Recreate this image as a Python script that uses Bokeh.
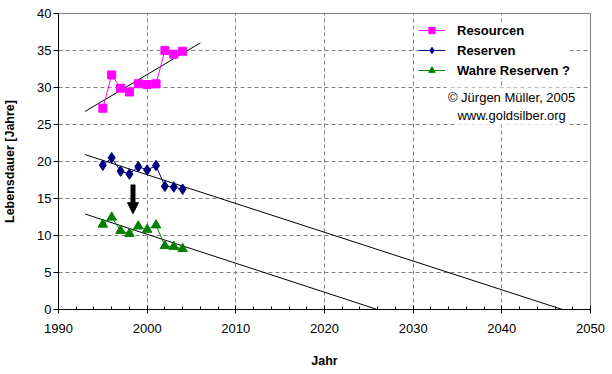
from bokeh.plotting import figure
from bokeh.models import Range1d, FixedTicker, Label, Arrow, NormalHead, Legend, LegendItem
from bokeh.embed import file_html
from bokeh.resources import INLINE
import numpy as np

# ---- data ----
years = [1995, 1996, 1997, 1998, 1999, 2000, 2001, 2002, 2003, 2004]
resourcen = [27.2, 31.7, 29.9, 29.4, 30.5, 30.4, 30.5, 35.0, 34.5, 34.9]
reserven = [19.5, 20.5, 18.7, 18.3, 19.3, 18.85, 19.45, 16.65, 16.55, 16.25]
wahre_reserven = [11.5, 12.45, 10.65, 10.25, 11.25, 10.8, 11.4, 8.6, 8.5, 8.2]

x_ticks = [1990, 2000, 2010, 2020, 2030, 2040, 2050]
x_minor = list(range(1990, 2051, 2))
y_ticks = [0, 5, 10, 15, 20, 25, 30, 35, 40]

trend_start = 1993
resourcen_trend_end = 2006

arrow_x = 1998.4
arrow_from = 16.9
arrow_to = 12.95

credit_x = 2041.1
credit_y1 = 28.7
credit_y2 = 26.25

FONT = "Liberation Sans"

FRAME_W = 532
FRAME_H = 296
B_LEFT, B_RIGHT, B_TOP, B_BOTTOM = 58, 22, 13, 65
p = figure(width=B_LEFT + FRAME_W + B_RIGHT, height=B_TOP + FRAME_H + B_BOTTOM,
           output_backend="svg", toolbar_location=None,
           x_range=Range1d(1990, 2050), y_range=Range1d(0, 40),
           min_border_left=B_LEFT, min_border_right=B_RIGHT,
           min_border_top=B_TOP, min_border_bottom=B_BOTTOM)
p.background_fill_color = "white"
p.border_fill_color = "white"
p.outline_line_color = "#808080"
p.outline_line_width = 1

# axes
p.xaxis.ticker = FixedTicker(ticks=x_ticks, minor_ticks=x_minor)
p.yaxis.ticker = FixedTicker(ticks=y_ticks, minor_ticks=[])
for ax in (p.xaxis[0], p.yaxis[0]):
    ax.axis_line_color = "black"
    ax.major_tick_line_color = "black"
    ax.minor_tick_line_color = "black"
    ax.major_label_text_font = FONT
    ax.major_label_text_font_size = "13px"
    ax.major_label_text_color = "black"
    ax.axis_label_text_font = FONT
    ax.axis_label_text_font_style = "bold"
    ax.axis_label_text_font_size = "12.5px"
    ax.axis_label_text_color = "black"

p.xaxis.axis_label = "Jahr"
p.xaxis.major_tick_in = 4
p.xaxis.major_tick_out = 4
p.xaxis.minor_tick_in = 3
p.xaxis.minor_tick_out = 0
p.xaxis.major_label_standoff = 10
p.xaxis.axis_label_standoff = 18

p.yaxis.axis_label = "Lebensdauer [Jahre]"
p.yaxis.major_tick_in = 0
p.yaxis.major_tick_out = 5
p.yaxis.major_label_standoff = 2
p.yaxis.axis_label_standoff = 17

# grid
p.xgrid.ticker = FixedTicker(ticks=x_ticks)
p.ygrid.ticker = FixedTicker(ticks=y_ticks)
for g in (p.xgrid[0], p.ygrid[0]):
    g.grid_line_color = "#808080"
    g.grid_line_dash = "4 3"
    g.grid_line_width = 1

# trend lines (linear fits of each series)
def trend(values, end=None):
    m, b = np.polyfit(years, values, 1)
    if end is None:
        end = -b / m
    xs = [trend_start, end]
    return xs, [m * x + b for x in xs]

for vals, end in ((resourcen, resourcen_trend_end), (reserven, None), (wahre_reserven, None)):
    tx, ty = trend(vals, end)
    p.line(tx, ty, line_color="black", line_width=1)

# series
l1 = p.line(years, resourcen, line_color="#FF00FF", line_width=1)
s1 = p.scatter(years, resourcen, marker="square", size=8, fill_color="#FF00FF", line_color="#FF00FF")
l2 = p.line(years, reserven, line_color="#000080", line_width=1)
s2 = p.scatter(years, reserven, marker="diamond", size=10.5,
               fill_color="#000080", line_color="#000080")
l3 = p.line(years, wahre_reserven, line_color="#008000", line_width=1)
s3 = p.scatter(years, wahre_reserven, marker="triangle", size=9.5, fill_color="#008000", line_color="#008000")

# arrow
p.add_layout(Arrow(end=NormalHead(size=11, fill_color="black", line_color="black", line_width=1),
                   x_start=arrow_x, y_start=arrow_from, x_end=arrow_x, y_end=arrow_to,
                   line_color="black", line_width=5))

# credit text
for txt, yy in (("© Jürgen Müller, 2005", credit_y1), ("www.goldsilber.org", credit_y2)):
    p.add_layout(Label(x=credit_x, y=yy, text=txt, text_align="center", text_baseline="middle",
                       text_font=FONT, text_font_size="13px", text_color="black",
                       background_fill_color="white", background_fill_alpha=1.0, padding=2))

legend = Legend(items=[LegendItem(label="Resourcen", renderers=[l1, s1]),
                       LegendItem(label="Reserven", renderers=[l2, s2]),
                       LegendItem(label="Wahre Reserven ?", renderers=[l3, s3])],
                location=(360, FRAME_H - 65))
legend.margin = 0
legend.padding = 6
legend.spacing = 4
legend.glyph_width = 27
legend.glyph_height = 16
legend.label_height = 16
legend.label_standoff = 12
legend.label_text_font = FONT
legend.label_text_font_style = "bold"
legend.label_text_font_size = "13px"
legend.label_text_color = "black"
legend.border_line_color = None
legend.background_fill_color = "white"
legend.background_fill_alpha = 1.0
p.add_layout(legend)

open("out.html", "w").write(file_html(p, INLINE))
